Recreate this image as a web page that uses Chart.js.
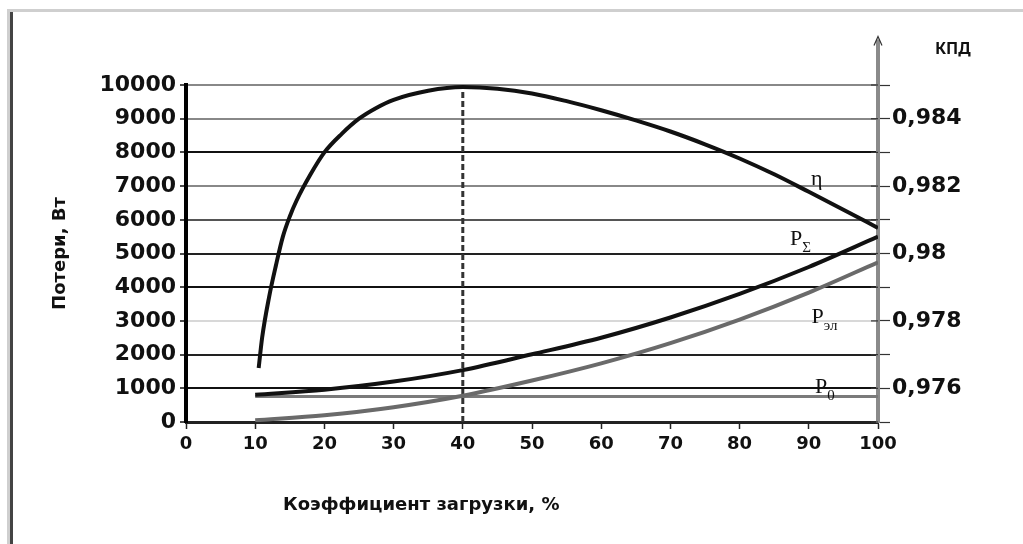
<!DOCTYPE html>
<html><head><meta charset="utf-8">
<script src="https://cdn.jsdelivr.net/npm/chart.js@4.4.1/dist/chart.umd.min.js"></script>
<style>
html,body{margin:0;padding:0;background:#fff;}
#wrap{position:relative;width:1023px;height:544px;overflow:hidden;background:#fff;}
#frameA{position:absolute;left:7px;top:9px;width:1100px;height:600px;border-top:3px solid #cfcfcf;border-left:3px solid #cfcfcf;}
#frameB{position:absolute;left:10px;top:12px;width:0;height:600px;border-left:3px solid #444;}
canvas{position:absolute;left:0;top:0;}
.t{position:absolute;font-weight:bold;color:#111;white-space:nowrap;}
</style></head>
<body><div id="wrap"><div id="frameA"></div><div id="frameB"></div>
<canvas id="c" width="1023" height="544"></canvas>
<div class="t" style="left:283px;top:493px;font-size:18px;font-family:'DejaVu Sans';">Коэффициент загрузки, %</div>
<div class="t" style="left:935px;top:37px;font-size:16px;font-family:'Noto Sans';">КПД</div>
</div>
<script>
// ---- data ----
const xTicks = [0,10,20,30,40,50,60,70,80,90,100];
const leftTicks = [0,1000,2000,3000,4000,5000,6000,7000,8000,9000,10000];
const rightTickValues = [0.975,0.976,0.977,0.978,0.979,0.980,0.981,0.982,0.983,0.984,0.985];
const rightTickLabels = ['','0,976','','0,978','','0,98','','0,982','','0,984',''];

const effLoad   = [10.5, 11, 12, 13, 14, 15, 16, 18, 20, 22.5, 25, 27.5, 30, 35, 40, 45, 50, 55, 60, 65, 70, 75, 80, 85, 90, 95, 100];
const effValues = [0.97660, 0.97750, 0.97870, 0.97965, 0.98050, 0.98110, 0.98158, 0.98235, 0.98300, 0.98355, 0.98400, 0.98432, 0.98456, 0.98483, 0.98494, 0.98489, 0.98475, 0.98452, 0.98425, 0.98395, 0.98362, 0.98324, 0.98282, 0.98235, 0.98183, 0.98130, 0.98076];

const lossLoad   = [10, 20, 30, 40, 50, 60, 70, 80, 90, 100];
const lossTotal  = [810, 960, 1200, 1540, 2010, 2500, 3100, 3800, 4600, 5500];
const lossCopper = [50, 200, 440, 780, 1230, 1740, 2340, 3040, 3840, 4740];
const lossNoLoad = [760, 760, 760, 760, 760, 760, 760, 760, 760, 760];

// ---- build ----
const pts = (xs, ys) => xs.map((x, i) => ({x, y: ys[i]}));
const peakIdx = effValues.indexOf(Math.max(...effValues));
const peakLoad = effLoad[peakIdx], peakEff = effValues[peakIdx];

const gridColors = ['#222','#111','#222','#d8d8d8','#111','#222','#555','#888','#111','#888','#888'];

const extrasPlugin = {
  id: 'extras',
  afterDraw(chart) {
    const ctx = chart.ctx, x = chart.scales.x, y = chart.scales.y, y2 = chart.scales.y2;
    const ax = y2.left;
    const yTop = y2.getPixelForValue(0.98635);
    ctx.save();
    ctx.strokeStyle = '#8a8a8a'; ctx.lineWidth = 4;
    ctx.beginPath(); ctx.moveTo(ax, y2.top); ctx.lineTo(ax, yTop); ctx.stroke();
    ctx.strokeStyle = '#333'; ctx.lineWidth = 1.2;
    ctx.beginPath(); ctx.moveTo(ax - 4, yTop + 6); ctx.lineTo(ax, yTop - 3); ctx.lineTo(ax + 4, yTop + 6); ctx.stroke();
    rightTickValues.forEach(v => {
      const py = y2.getPixelForValue(v);
      ctx.beginPath(); ctx.moveTo(ax - 7, py); ctx.lineTo(ax, py); ctx.stroke();
    });
    ctx.fillStyle = '#111';
    ctx.textAlign = 'left'; ctx.textBaseline = 'alphabetic';
    const lab = (t, sub, lx, ly) => {
      const px = x.getPixelForValue(lx), py = y.getPixelForValue(ly);
      ctx.font = '22px "Liberation Serif"';
      ctx.fillText(t, px, py);
      if (sub) {
        const w = ctx.measureText(t).width;
        ctx.font = '15px "Liberation Serif"';
        ctx.fillText(sub, px + w, py + 7);
      }
    };
    lab('η', '', 90.3, 7030);
    lab('P', 'Σ', 87.3, 5250);
    lab('P', 'эл', 90.4, 2940);
    lab('P', '0', 90.9, 860);
    ctx.restore();
  }
};

new Chart(document.getElementById('c'), {
  type: 'line',
  data: {
    datasets: [
      {label: 'η', data: pts(effLoad, effValues), yAxisID: 'y2', borderColor: '#111', borderWidth: 4, pointRadius: 0, cubicInterpolationMode: 'monotone', fill: false},
      {label: 'PΣ', data: pts(lossLoad, lossTotal), yAxisID: 'y', borderColor: '#111', borderWidth: 4, pointRadius: 0, cubicInterpolationMode: 'monotone', fill: false},
      {label: 'Pэл', data: pts(lossLoad, lossCopper), yAxisID: 'y', borderColor: '#6a6a6a', borderWidth: 4, pointRadius: 0, cubicInterpolationMode: 'monotone', fill: false},
      {label: 'P0', data: pts(lossLoad, lossNoLoad), yAxisID: 'y', borderColor: '#7a7a7a', borderWidth: 3, pointRadius: 0, fill: false},
      {label: 'peak', data: [{x: peakLoad, y: rightTickValues[0]}, {x: peakLoad, y: peakEff}], yAxisID: 'y2', borderColor: '#333', borderWidth: 3, borderDash: [6, 3], pointRadius: 0, fill: false}
    ]
  },
  options: {
    responsive: false, animation: false,
    layout: {padding: {left: 10, right: 0, top: 85, bottom: 0}},
    plugins: {legend: {display: false}, tooltip: {enabled: false}, title: {display: false}},
    scales: {
      x: {
        type: 'linear', min: 0, max: 100,
        afterBuildTicks: s => { s.ticks = xTicks.map(v => ({value: v})); },
        afterFit: s => { s.height = 122; },
        border: {display: true, color: '#222', width: 3},
        grid: {drawOnChartArea: false, drawTicks: true, tickLength: 7, tickColor: '#222', tickWidth: 1.5},
        ticks: {color: '#111', font: {family: 'DejaVu Sans', size: 18, weight: 'bold'}, padding: 5, maxRotation: 0, autoSkip: false}
      },
      y: {
        type: 'linear', position: 'left', min: 0, max: 10000,
        afterBuildTicks: s => { s.ticks = leftTicks.map(v => ({value: v})); },
        afterFit: s => { s.width = 176; },
        border: {display: true, color: '#000', width: 4},
        grid: {color: c => gridColors[c.index] || '#444', lineWidth: 2, drawTicks: true, tickLength: 6, tickColor: '#111', tickWidth: 1.5},
        ticks: {color: '#111', font: {family: 'DejaVu Sans', size: 22, weight: 'bold'}, padding: 4, autoSkip: false, callback: v => String(v)},
        title: {display: true, text: 'Потери, Вт', color: '#111', font: {family: 'DejaVu Sans', size: 18, weight: 'bold'}, padding: {top: 40, bottom: 0}}
      },
      y2: {
        type: 'linear', position: 'right', min: 0.975, max: 0.985,
        afterBuildTicks: s => { s.ticks = rightTickValues.map(v => ({value: v})); },
        afterFit: s => { s.width = 145; },
        border: {display: true, color: '#8a8a8a', width: 4},
        grid: {drawOnChartArea: false, drawTicks: true, tickLength: 12, tickColor: '#333', tickWidth: 1.2},
        ticks: {color: '#111', font: {family: 'DejaVu Sans', size: 22, weight: 'bold'}, padding: 2, autoSkip: false,
          callback: (v, i) => rightTickLabels[i]}
      }
    }
  },
  plugins: [extrasPlugin]
});
</script>
</body></html>
